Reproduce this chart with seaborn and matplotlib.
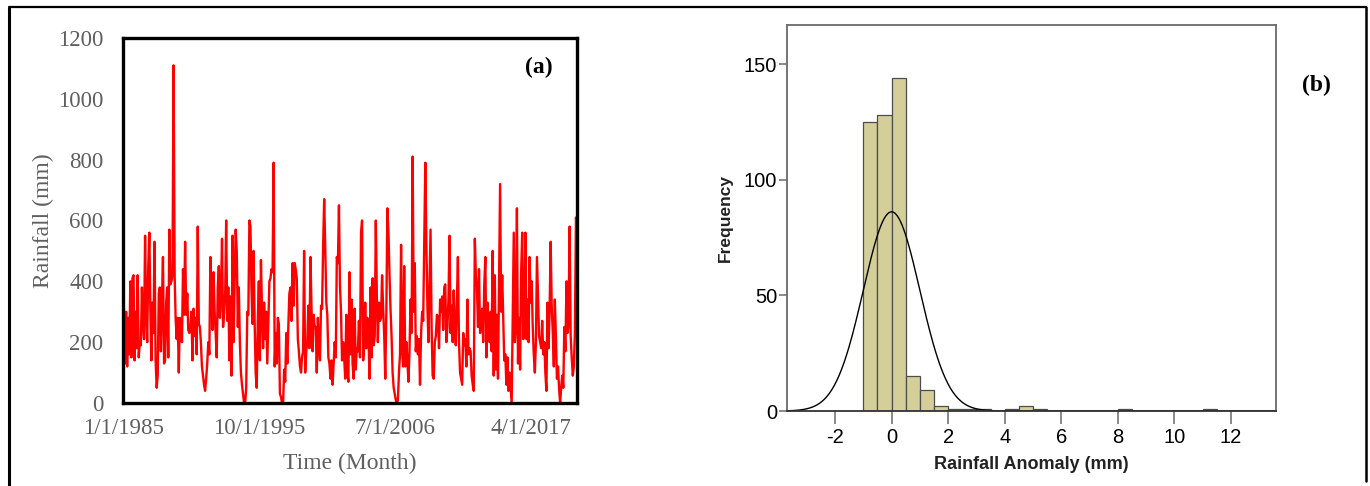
import numpy as np
import pandas as pd
import matplotlib
matplotlib.use("Agg")
import matplotlib.pyplot as plt
from matplotlib.lines import Line2D
import seaborn as sns

# ---------------------------------------------------------------------------
# Data
# ---------------------------------------------------------------------------
START_MONTH = "1985-01-01"

# monthly rainfall (mm), one row per year 1985..2020
rainfall = [
    410, 290, 130, 300, 120, 280, 160, 400, 150, 410, 420, 140,
    300, 180, 420, 150, 200, 190, 380, 270, 210, 550, 300, 200,
    450, 560, 320, 140, 330, 230, 530, 140, 50, 90, 360, 380,
    170, 340, 480, 130, 140, 330, 380, 150, 570, 390, 400, 420,
    1110, 420, 280, 210, 280, 100, 280, 270, 200, 440, 290, 530,
    290, 360, 240, 230, 250, 300, 140, 310, 220, 280, 160, 580,
    260, 250, 200, 120, 90, 60, 40, 80, 130, 200, 160, 480,
    350, 240, 430, 300, 230, 150, 380, 450, 280, 350, 540, 250,
    300, 360, 600, 270, 380, 140, 350, 90, 550, 200, 400, 570,
    500, 250, 380, 200, 100, 60, 30, 0, 0, 50, 300, 290,
    600, 580, 380, 260, 500, 270, 100, 50, 270, 400, 140, 470,
    300, 180, 330, 210, 300, 130, 260, 400, 410, 440, 430, 790,
    120, 230, 130, 280, 260, 30, 20, 0, 0, 110, 70, 230,
    130, 260, 360, 380, 270, 460, 320, 460, 440, 410, 210, 170,
    120, 100, 150, 170, 500, 100, 170, 200, 320, 180, 480, 310,
    170, 290, 250, 250, 100, 280, 200, 140, 320, 310, 520, 670,
    510, 330, 290, 150, 130, 80, 140, 60, 130, 200, 150, 480,
    460, 650, 390, 300, 140, 200, 150, 80, 290, 100, 70, 430,
    160, 340, 130, 80, 310, 110, 180, 170, 270, 150, 560, 600,
    140, 200, 330, 180, 280, 240, 80, 380, 150, 410, 190, 220,
    600, 340, 200, 330, 270, 280, 420, 310, 220, 80, 300, 640,
    560, 420, 310, 220, 100, 50, 30, 10, 0, 10, 100, 160,
    520, 170, 120, 450, 120, 200, 140, 70, 170, 340, 230, 810,
    300, 460, 170, 220, 160, 210, 60, 230, 300, 270, 540, 790,
    520, 310, 200, 380, 570, 250, 90, 80, 200, 220, 290, 280,
    180, 340, 300, 350, 240, 380, 390, 200, 250, 340, 550, 230,
    320, 200, 370, 250, 190, 330, 480, 200, 100, 80, 60, 230,
    190, 210, 120, 340, 160, 180, 170, 90, 60, 40, 540, 420,
    380, 250, 440, 230, 260, 310, 200, 390, 480, 150, 330, 220,
    200, 300, 170, 500, 90, 420, 110, 290, 80, 400, 720, 300,
    420, 280, 140, 160, 60, 150, 40, 100, 50, 0, 280, 560,
    200, 250, 640, 130, 280, 110, 430, 560, 210, 270, 560, 210,
    340, 200, 480, 330, 400, 250, 160, 100, 200, 480, 350, 220,
    200, 180, 270, 160, 200, 100, 40, 330, 180, 300, 530, 320,
    230, 120, 340, 220, 80, 120, 50, 0, 50, 90, 50, 250,
    170, 400, 230, 260, 580, 220, 150, 90, 120, 230, 610, 560,
]
time_ticks = ["1985-01-01", "1995-10-01", "2006-07-01", "2017-04-01"]
time_tick_labels = ["1/1/1985", "10/1/1995", "7/1/2006", "4/1/2017"]
rain_ticks = [0, 200, 400, 600, 800, 1000, 1200]

# histogram of rainfall anomaly, bins of 0.5 starting at -1.0
anomaly_bin_start = -1.0
anomaly_bin_width = 0.5
anomaly_counts = [125, 128, 144, 15, 9, 2, 1, 1, 1, 0, 1, 2, 1,
                  0, 0, 0, 0, 0, 1, 0, 0, 0, 0, 0, 1]
anomaly_mean = 0.0
anomaly_std = 1.0
anomaly_xticks = [-2, 0, 2, 4, 6, 8, 10, 12]
freq_ticks = [0, 50, 100, 150]

# ---------------------------------------------------------------------------
# Style
# ---------------------------------------------------------------------------
sns.set_style("white")
plt.rcParams["axes.unicode_minus"] = False
SERIF = ["Liberation Serif", "DejaVu Serif"]
NARROW = ["Liberation Sans Narrow", "Liberation Sans", "DejaVu Sans"]
GREY_TXT = "#5f5f5f"
BAR_FILL = "#d4cf99"
BAR_EDGE = "#4d4d4d"
SPINE_B = "#6a6a6a"

fig = plt.figure(figsize=(13.7, 4.86), dpi=100)
W, H = 1370, 486


def frac(x0, y0, x1, y1):
    return [x0 / W, 1 - y1 / H, (x1 - x0) / W, (y1 - y0) / H]


# ---------------------------------------------------------------------------
# (a) rainfall time series
# ---------------------------------------------------------------------------
ax1 = fig.add_axes(frac(123, 38, 577, 403))
df = pd.DataFrame({
    "date": pd.date_range(START_MONTH, periods=len(rainfall), freq="MS"),
    "rain": rainfall,
})
sns.lineplot(data=df, x="date", y="rain", color="#ff0000", linewidth=1.7, ax=ax1)
ax1.set_xlim(df["date"].iloc[0], df["date"].iloc[-1])
ax1.set_ylim(0, 1200)
ax1.set_yticks(rain_ticks)
ax1.set_xticks(pd.to_datetime(time_ticks))
ax1.set_xticklabels(time_tick_labels)
ax1.tick_params(length=0, labelsize=16.5, labelcolor=GREY_TXT)
ax1.tick_params(axis="y", pad=14)
ax1.tick_params(axis="x", pad=11)
for lab in ax1.get_xticklabels() + ax1.get_yticklabels():
    lab.set_family(SERIF)
for sp in ax1.spines.values():
    sp.set_color("black")
    sp.set_linewidth(2.4)
ax1.set_xlabel("Time (Month)", family=SERIF, fontsize=17, color=GREY_TXT, labelpad=10)
ax1.set_ylabel("Rainfall (mm)", family=SERIF, fontsize=17, color=GREY_TXT, labelpad=3)
ax1.text(0.915, 0.92, "(a)", transform=ax1.transAxes, family=SERIF,
         fontsize=17, fontweight="bold", ha="center", va="center", color="black")

# ---------------------------------------------------------------------------
# (b) histogram of anomalies with normal curve
# ---------------------------------------------------------------------------
ax2 = fig.add_axes(frac(787, 25, 1276, 411))
n_bins = len(anomaly_counts)
bin_centers = anomaly_bin_start + anomaly_bin_width * (np.arange(n_bins) + 0.5)
# one observation per counted value, placed at its bin centre
obs = np.repeat(bin_centers, anomaly_counts)
sns.histplot(x=obs, binwidth=anomaly_bin_width,
             binrange=(anomaly_bin_start, anomaly_bin_start + n_bins * anomaly_bin_width),
             stat="count", color=BAR_FILL, edgecolor=BAR_EDGE, linewidth=0.9,
             alpha=1.0, ax=ax2)

xx = np.linspace(-3.7, 13.6, 600)
n_total = sum(anomaly_counts)
curve = n_total * anomaly_bin_width * np.exp(-0.5 * ((xx - anomaly_mean) / anomaly_std) ** 2) / (
    anomaly_std * np.sqrt(2 * np.pi))
sns.lineplot(x=xx, y=curve, color="black", linewidth=1.0, ax=ax2)

ax2.set_xlim(-3.7, 13.6)
ax2.set_ylim(0, 167)
ax2.set_xticks(anomaly_xticks)
ax2.set_yticks(freq_ticks)
ax2.tick_params(axis="x", direction="out", length=9, width=1.1, color=SPINE_B,
                labelsize=14.5, pad=3, bottom=True)
ax2.tick_params(axis="y", direction="out", length=6, width=1.1, color=SPINE_B,
                labelsize=14.5, pad=1, left=True)
for lab in ax2.get_xticklabels() + ax2.get_yticklabels():
    lab.set_family(NARROW)
    lab.set_color("black")
for sp in ax2.spines.values():
    sp.set_color(SPINE_B)
    sp.set_linewidth(1.3)
ax2.spines["bottom"].set_color("#333333")
ax2.set_xlabel("Rainfall Anomaly (mm)", family=NARROW, fontsize=13,
               fontweight="bold", color="#222222", labelpad=7)
ax2.set_ylabel("Frequency", family=["Liberation Sans", "DejaVu Sans"], fontsize=12.5,
               fontweight="bold", color="#222222", labelpad=8)
fig.text(1316 / W, 1 - 85 / H, "(b)", family=SERIF, fontsize=17,
         fontweight="bold", ha="center", va="center", color="black")

# ---------------------------------------------------------------------------
# outer frame
# ---------------------------------------------------------------------------
fig.add_artist(Line2D([9 / W, 9 / W], [0, 1 - 8 / H], color="black", lw=2.2))
fig.add_artist(Line2D([9 / W, 1366 / W], [1 - 7.5 / H, 1 - 7.5 / H], color="black", lw=1.6))
fig.add_artist(Line2D([1366 / W, 1366 / W], [1 - 481 / H, 1 - 7 / H], color="black", lw=1.8))

fig.savefig("out.png", dpi=100, facecolor="white")
